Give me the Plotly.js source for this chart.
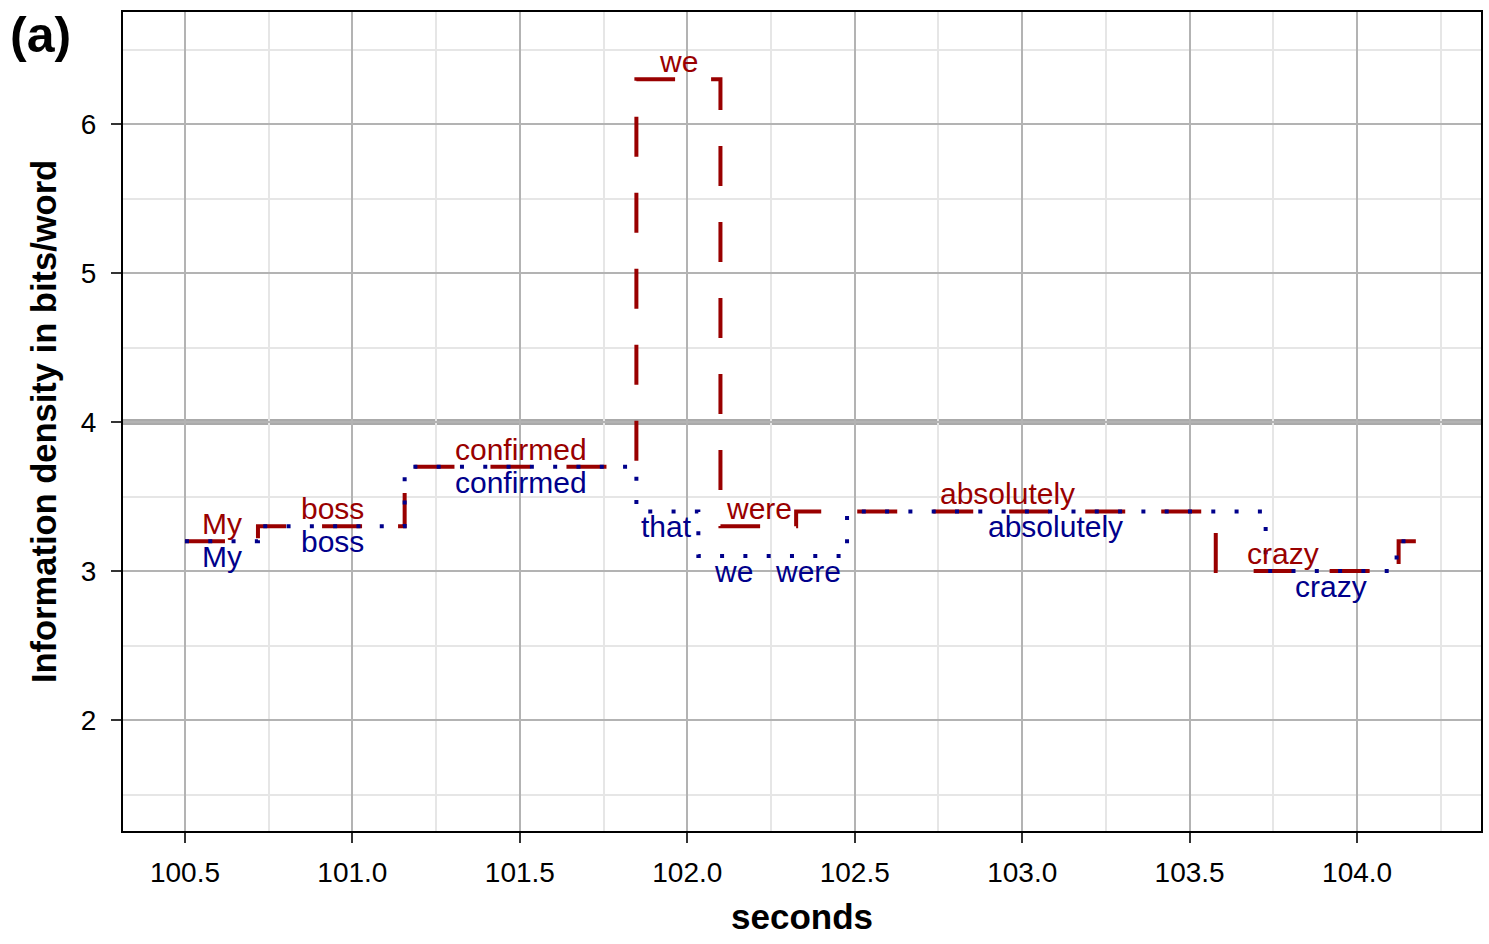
<!DOCTYPE html>
<html>
<head>
<meta charset="utf-8">
<script src="https://cdn.plot.ly/plotly-3.0.1.min.js"></script>
<style>html,body{margin:0;padding:0;background:#fff;}#chart{width:1489px;height:944px;}</style>
</head>
<body>
<div id="chart"></div>
<script>
// Step-line data (start time of each step, information density in bits/word)
const redX = [100.5, 100.718, 101.156, 101.848, 102.099, 102.325, 103.578, 104.124, 104.183];
const redY = [3.2, 3.3, 3.7, 6.3, 3.3, 3.4, 3.0, 3.2, 3.2];
const blueX = [100.5, 100.718, 101.156, 101.848, 102.033, 102.477, 103.727, 104.118, 104.183];
const blueY = [3.2, 3.3, 3.7, 3.4, 3.1, 3.4, 3.0, 3.2, 3.2];

// Word labels
const redWords = ["My", "boss", "confirmed", "we", "were", "absolutely", "crazy"];
const redLabelX = [100.610, 100.941, 101.502, 101.973, 102.215, 102.955, 103.778];
const redLabelY = [3.2, 3.3, 3.7, 6.3, 3.3, 3.4, 3.0];
const blueWords = ["My", "boss", "confirmed", "that", "we", "were", "absolutely", "crazy"];
const blueLabelX = [100.610, 100.941, 101.502, 101.938, 102.137, 102.361, 103.098, 103.921];
const blueLabelY = [3.2, 3.3, 3.7, 3.4, 3.1, 3.1, 3.4, 3.0];

const refLine = 4;
const xTicks = [100.5, 101.0, 101.5, 102.0, 102.5, 103.0, 103.5, 104.0];
const yTicks = [2, 3, 4, 5, 6];

const RED = "#990000";
const BLUE = "#00008b";
const FONT = "Liberation Sans, Arial, Helvetica, sans-serif";
const LABEL_SIZE = 30;

const traces = [
  {x: redX, y: redY, type: "scatter", mode: "lines", line: {shape: "hv", color: RED, width: 4, dash: "40px,36px"}, hoverinfo: "skip"},
  {x: blueX, y: blueY, type: "scatter", mode: "lines", line: {shape: "hv", color: BLUE, width: 4, dash: "4px,19.3px"}, hoverinfo: "skip"}
];

const annotations = [];
redWords.forEach((w, i) => annotations.push({
  text: w, x: redLabelX[i], y: redLabelY[i], xref: "x", yref: "y",
  xanchor: "center", yanchor: "bottom", yshift: 0, borderpad: 0, showarrow: false,
  font: {family: FONT, size: LABEL_SIZE, color: RED}
}));
blueWords.forEach((w, i) => annotations.push({
  text: w, x: blueLabelX[i], y: blueLabelY[i], xref: "x", yref: "y",
  xanchor: "center", yanchor: "top", yshift: 2, borderpad: 0, showarrow: false,
  font: {family: FONT, size: LABEL_SIZE, color: BLUE}
}));
annotations.push({text: "<b>(a)</b>", xref: "paper", yref: "paper", x: -0.085, y: 1.008,
  xanchor: "left", yanchor: "top", showarrow: false, font: {family: FONT, size: 50, color: "#000"}});

const layout = {
  width: 1489, height: 944,
  margin: {l: 123, r: 8, t: 12, b: 113},
  paper_bgcolor: "#ffffff", plot_bgcolor: "#ffffff",
  showlegend: false, hovermode: false,
  font: {family: FONT, color: "#000"},
  xaxis: {
    range: [100.315, 104.370], tickvals: xTicks, tickformat: ".1f",
    showgrid: true, gridcolor: "#b3b3b3", gridwidth: 2,
    minor: {dtick: 0.25, tick0: 100.25, showgrid: true, gridcolor: "#e6e6e6", gridwidth: 2},
    zeroline: false, showline: true, mirror: true, linecolor: "#000", linewidth: 2,
    ticks: "outside", ticklen: 10, tickwidth: 2, tickcolor: "#333",
    tickfont: {family: FONT, size: 28, color: "#000"}, ticklabelstandoff: 5,
    title: {text: "<b>seconds</b>", font: {family: FONT, size: 35, color: "#000"}, standoff: 18},
    automargin: false
  },
  yaxis: {
    range: [1.255, 6.752], tickvals: yTicks,
    showgrid: true, gridcolor: "#b3b3b3", gridwidth: 2,
    minor: {dtick: 0.5, tick0: 1.5, showgrid: true, gridcolor: "#e6e6e6", gridwidth: 2},
    zeroline: false, showline: true, mirror: true, linecolor: "#000", linewidth: 2,
    ticks: "outside", ticklen: 10, tickwidth: 2, tickcolor: "#333",
    tickfont: {family: FONT, size: 28, color: "#000"}, ticklabelstandoff: 9,
    title: {text: "<b>Information density in bits/word</b>", font: {family: FONT, size: 34.5, color: "#000"}, standoff: 14},
    automargin: false
  },
  shapes: [
    {type: "line", xref: "paper", yref: "y", x0: 0, x1: 1, y0: refLine, y1: refLine,
     line: {color: "#aaaaaa", width: 6}, layer: "below"}
  ],
  annotations: annotations
};

Plotly.newPlot("chart", traces, layout, {displayModeBar: false, staticPlot: true});
</script>
</body>
</html>
